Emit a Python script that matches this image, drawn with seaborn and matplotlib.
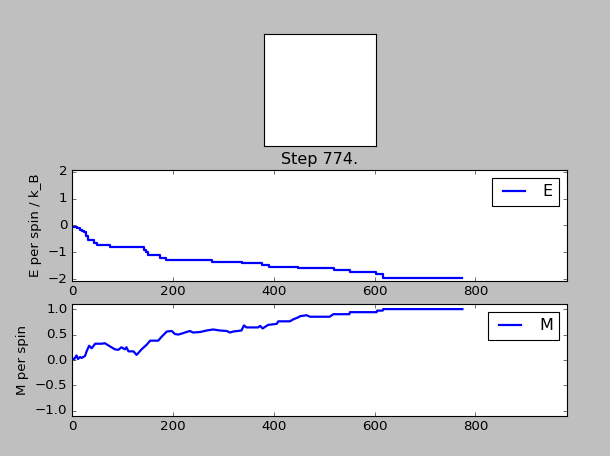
import numpy as np
import pandas as pd
import matplotlib
matplotlib.use("Agg")
import matplotlib.pyplot as plt
import seaborn as sns

# ─────────────────────────────────────────────
# DATA
# ─────────────────────────────────────────────
final_step = 774
lattice_size = 20
lattice = [[1] * lattice_size for _ in range(lattice_size)]   # all spins up

e_steps = [0, 10, 16, 20, 24, 28, 31, 44, 50, 75, 143, 146, 151, 175, 186,
           277, 338, 377, 390, 449, 519, 552, 603, 616, 774]
e_values = [-0.04, -0.1, -0.15, -0.2, -0.26, -0.4, -0.55, -0.65, -0.73, -0.8,
            -0.9, -1.0, -1.1, -1.22, -1.29, -1.35, -1.41, -1.48, -1.54, -1.6,
            -1.66, -1.72, -1.82, -1.97, -1.97]

m_steps = [0, 4, 9, 12, 16, 19, 26, 29, 34, 39, 46, 59, 65, 75, 85, 92, 98,
           105, 108, 112, 122, 128, 138, 148, 155, 171, 178, 188, 198, 204,
           211, 221, 227, 234, 240, 254, 267, 280, 293, 307, 313, 320, 336,
           341, 346, 369, 373, 378, 389, 406, 409, 432, 439, 449, 452, 465,
           472, 511, 518, 550, 551, 604, 605, 616, 617, 774]
m_values = [0.04, 0.01, 0.09, 0.02, 0.06, 0.04, 0.08, 0.17, 0.28, 0.23, 0.32,
            0.32, 0.33, 0.27, 0.21, 0.2, 0.25, 0.21, 0.25, 0.17, 0.17, 0.1,
            0.21, 0.3, 0.38, 0.38, 0.46, 0.56, 0.57, 0.51, 0.5, 0.53, 0.55,
            0.57, 0.54, 0.55, 0.58, 0.6, 0.58, 0.57, 0.54, 0.56, 0.58, 0.68,
            0.64, 0.64, 0.67, 0.62, 0.69, 0.71, 0.76, 0.76, 0.8, 0.84, 0.86,
            0.88, 0.85, 0.85, 0.9, 0.9, 0.94, 0.94, 0.97, 0.97, 1.0, 1.0]

df_e = pd.DataFrame({"step": e_steps, "E": e_values})
df_m = pd.DataFrame({"step": m_steps, "M": m_values})

# ─────────────────────────────────────────────
# FIGURE
# ─────────────────────────────────────────────
plt.style.use("classic")
fig = plt.figure(figsize=(7.625, 5.7), dpi=80)

ax_img = fig.add_axes([0.118, 0.680, 0.812, 0.2456])
ax_e = fig.add_axes([0.118, 0.3838, 0.812, 0.2434])
ax_m = fig.add_axes([0.118, 0.0877, 0.812, 0.2456])

# spin lattice
ax_img.imshow(np.array(lattice), cmap="gray", vmin=-1, vmax=1,
              interpolation="nearest")
ax_img.set_xticks([])
ax_img.set_yticks([])

# energy
sns.lineplot(data=df_e, x="step", y="E", ax=ax_e, color="b", linewidth=2,
             drawstyle="steps-post", label="E")
ax_e.set_xlim(0, 982)
ax_e.set_ylim(-2.07, 2.07)
ax_e.set_yticks([-2, -1, 0, 1, 2])
ax_e.set_xlabel("")
ax_e.set_ylabel("E per spin / k_B")
ax_e.set_title(f"Step {final_step}.")
ax_e.legend(loc="upper right")

# magnetisation
sns.lineplot(data=df_m, x="step", y="M", ax=ax_m, color="b", linewidth=2,
             label="M")
ax_m.set_xlim(0, 982)
ax_m.set_ylim(-1.1, 1.1)
ax_m.set_yticks([-1.0, -0.5, 0.0, 0.5, 1.0])
ax_m.set_xlabel("")
ax_m.set_ylabel("M per spin")
ax_m.legend(loc="upper right")

plt.savefig("out.png", dpi=80, facecolor=fig.get_facecolor())
plt.close()
